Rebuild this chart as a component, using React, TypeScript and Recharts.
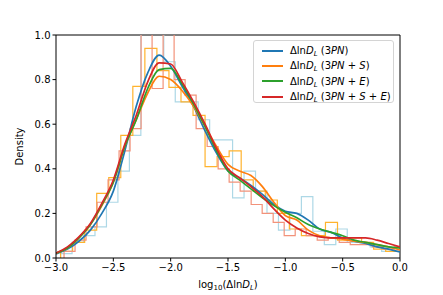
import React from "react";
import { LineChart, Line, XAxis, YAxis, Legend, ReferenceLine } from "recharts";

// KDE grid (log10 of relative error)
const kdeX = [
  -3.0, -2.9, -2.8, -2.7, -2.6, -2.5, -2.4, -2.3, -2.2, -2.1, -2.0, -1.9, -1.8, -1.7, -1.6, -1.5,
  -1.4, -1.3, -1.2, -1.1, -1.0, -0.9, -0.8, -0.7, -0.6, -0.5, -0.4, -0.3, -0.2, -0.1, 0.0,
];
const kde3PN = [
  0.018, 0.04, 0.075, 0.125, 0.2, 0.3, 0.48, 0.68, 0.83, 0.91, 0.86, 0.77, 0.68, 0.57, 0.47, 0.39,
  0.36, 0.325, 0.285, 0.24, 0.21, 0.2, 0.17, 0.13, 0.115, 0.09, 0.075, 0.065, 0.05, 0.04, 0.027,
];
const kde3PNS = [
  0.022, 0.045, 0.09, 0.15, 0.235, 0.34, 0.5, 0.62, 0.74, 0.815, 0.8, 0.75, 0.68, 0.59, 0.5, 0.42,
  0.39, 0.37, 0.32, 0.25, 0.19, 0.17, 0.125, 0.1, 0.09, 0.085, 0.075, 0.07, 0.06, 0.05, 0.036,
];
const kde3PNE = [
  0.022, 0.045, 0.09, 0.15, 0.24, 0.34, 0.5, 0.62, 0.76, 0.845, 0.85, 0.78, 0.69, 0.59, 0.48, 0.39,
  0.35, 0.31, 0.27, 0.235, 0.205, 0.18, 0.15, 0.13, 0.115, 0.1, 0.08, 0.07, 0.06, 0.05, 0.045,
];
const kde3PNSE = [
  0.022, 0.05, 0.095, 0.155, 0.245, 0.35, 0.51, 0.64, 0.79, 0.875, 0.87, 0.79, 0.7, 0.6, 0.49, 0.4,
  0.36, 0.32, 0.275, 0.22, 0.17, 0.135, 0.11, 0.095, 0.09, 0.09, 0.09, 0.09, 0.08, 0.065, 0.05,
];

// step histograms (first edge, bin width, heights)
const hist3PNStart = -2.96;
const hist3PNWidth = 0.1;
const hist3PN = [
  0.02, 0.07, 0.1, 0.14, 0.25, 0.39, 0.55, 1.05, 1.05, 0.88, 0.7, 0.7, 0.62, 0.53, 0.53, 0.27,
  0.39, 0.3, 0.2, 0.125, 0.2, 0.275, 0.12, 0.06, 0.13, 0.07, 0.07, 0.05, 0.03, 0.03,
];
const hist3PNSStart = -2.96;
const hist3PNSWidth = 0.105;
const hist3PNS = [
  0.03, 0.07, 0.125, 0.29, 0.36, 0.55, 0.77, 0.94, 0.84, 0.765, 0.7, 0.64, 0.41, 0.455, 0.48,
  0.35, 0.3, 0.26, 0.2, 0.13, 0.1, 0.1, 0.16, 0.08, 0.09, 0.07, 0.04, 0.03, 0.03,
];
const hist3PNSEStart = -2.93;
const hist3PNSEWidth = 0.096;
const hist3PNSE = [
  0.03, 0.08, 0.14, 0.25, 0.35, 0.48, 0.58, 1.1, 0.76, 1.1, 0.8, 0.73, 0.58, 0.5, 0.4, 0.34,
  0.3, 0.24, 0.2, 0.16, 0.1, 0.13, 0.1, 0.08, 0.09, 0.07, 0.06, 0.06, 0.05, 0.04, 0.05,
];

const xTicks = [-3.0, -2.5, -2.0, -1.5, -1.0, -0.5, 0.0];
const yTicks = [0, 0.2, 0.4, 0.6, 0.8, 1.0];

const series = [
  { key: "3PN", values: kde3PN, color: "#1f77b4", parts: ["3", "PN"] },
  { key: "3PNS", values: kde3PNS, color: "#ff7f0e", parts: ["3", "PN", " + ", "S"] },
  { key: "3PNE", values: kde3PNE, color: "#2ca02c", parts: ["3", "PN", " + ", "E"] },
  { key: "3PNSE", values: kde3PNSE, color: "#d62728", parts: ["3", "PN", " + ", "S", " + ", "E"] },
];

function steps(start: number, width: number, heights: number[]) {
  const n = heights.length;
  const pts = [{ x: start, y: 0 }];
  heights.forEach((h, i) => pts.push({ x: start + i * width, y: h }));
  pts.push({ x: start + n * width, y: heights[n - 1] });
  pts.push({ x: start + n * width, y: 0 });
  return pts;
}

const font = "'DejaVu Sans', sans-serif";
const fmt = (v: number) => v.toFixed(1).replace("-", "\u2212");

function MathLabel({ parts }: { parts: string[] }) {
  // parts alternate: upright / italic
  return (
    <span>
      {"\u0394ln"}
      <i>D</i>
      <sub style={{ fontSize: 7, fontStyle: "italic", verticalAlign: "-2px", lineHeight: 0 }}>L</sub>
      {" ("}
      {parts.map((p, i) =>
        i % 2 === 1 ? <i key={i}>{p}</i> : <span key={i}>{p}</span>
      )}
      {")"}
    </span>
  );
}

function LegendBox() {
  return (
    <div
      style={{
        width: 141,
        height: 63,
        boxSizing: "border-box",
        border: "1px solid #d4d4d4",
        borderRadius: 3,
        background: "rgba(255,255,255,0.85)",
        fontFamily: font,
        fontSize: 10,
        color: "#000",
        paddingTop: 2,
      }}
    >
      {series.map((s) => (
        <div key={s.key} style={{ display: "flex", alignItems: "center", height: 15.3 }}>
          <div style={{ width: 21, height: 2, background: s.color, marginLeft: 8, marginRight: 7 }} />
          <MathLabel parts={s.parts} />
        </div>
      ))}
    </div>
  );
}

function XLabel(props: any) {
  const { viewBox } = props;
  const cx = viewBox.x + viewBox.width / 2;
  return (
    <text x={cx} y={288} textAnchor="middle" fontFamily={font} fontSize={10} fill="#000">
      <tspan>log</tspan>
      <tspan fontSize={7} dy={2}>10</tspan>
      <tspan dy={-2}>{"(\u0394ln"}</tspan>
      <tspan fontStyle="italic">D</tspan>
      <tspan fontStyle="italic" fontSize={7} dy={2}>L</tspan>
      <tspan dy={-2}>)</tspan>
    </text>
  );
}

function YLabel(props: any) {
  const { viewBox } = props;
  const cy = viewBox.y + viewBox.height / 2;
  return (
    <text
      x={23}
      y={cy}
      transform={`rotate(-90 23 ${cy})`}
      textAnchor="middle"
      fontFamily={font}
      fontSize={10}
      fill="#000"
    >
      Density
    </text>
  );
}

export default function App() {
  const kdeData = (vals: number[]) => kdeX.map((x, i) => ({ x, y: vals[i] }));
  const tick = { fill: "#000", fontSize: 10, fontFamily: font };

  return (
    <div style={{ position: "absolute", left: 0, top: 0, width: 443, height: 295, background: "#fff" }}>
      <LineChart width={443} height={295} margin={{ top: 35, right: 43, left: 16, bottom: 7 }}>
        <XAxis
          dataKey="x"
          type="number"
          domain={[-3, 0]}
          ticks={xTicks}
          allowDataOverflow
          tickFormatter={fmt}
          tick={tick}
          tickSize={3.5}
          tickMargin={2}
          height={30}
          axisLine={{ stroke: "#000" }}
          tickLine={{ stroke: "#000" }}
          label={<XLabel />}
        />
        <YAxis
          dataKey="y"
          type="number"
          domain={[0, 1]}
          ticks={yTicks}
          allowDataOverflow
          tickFormatter={fmt}
          tick={tick}
          tickSize={3.5}
          tickMargin={2}
          width={40}
          axisLine={{ stroke: "#000" }}
          tickLine={{ stroke: "#000" }}
          label={<YLabel />}
        />
        <ReferenceLine y={1} stroke="#000" />
        <ReferenceLine x={0} stroke="#000" />

        <Line
          data={steps(hist3PNStart, hist3PNWidth, hist3PN)}
          dataKey="y"
          type="stepAfter"
          stroke="#add8e6"
          strokeWidth={1.2}
          dot={false}
          legendType="none"
          isAnimationActive={false}
        />
        <Line
          data={steps(hist3PNSStart, hist3PNSWidth, hist3PNS)}
          dataKey="y"
          type="stepAfter"
          stroke="#ffb32e"
          strokeWidth={1.2}
          dot={false}
          legendType="none"
          isAnimationActive={false}
        />
        <Line
          data={steps(hist3PNSEStart, hist3PNSEWidth, hist3PNSE)}
          dataKey="y"
          type="stepAfter"
          stroke="#f2927a"
          strokeWidth={1.2}
          dot={false}
          legendType="none"
          isAnimationActive={false}
        />

        {series.map((s) => (
          <Line
            key={s.key}
            data={kdeData(s.values)}
            dataKey="y"
            type="monotone"
            stroke={s.color}
            strokeWidth={1.7}
            dot={false}
            isAnimationActive={false}
          />
        ))}

        <Legend
          layout="vertical"
          align="center"
          verticalAlign="middle"
          content={() => <LegendBox />}
          wrapperStyle={{ left: 253, top: 40, width: 141, height: 63 }}
        />
      </LineChart>
    </div>
  );
}
